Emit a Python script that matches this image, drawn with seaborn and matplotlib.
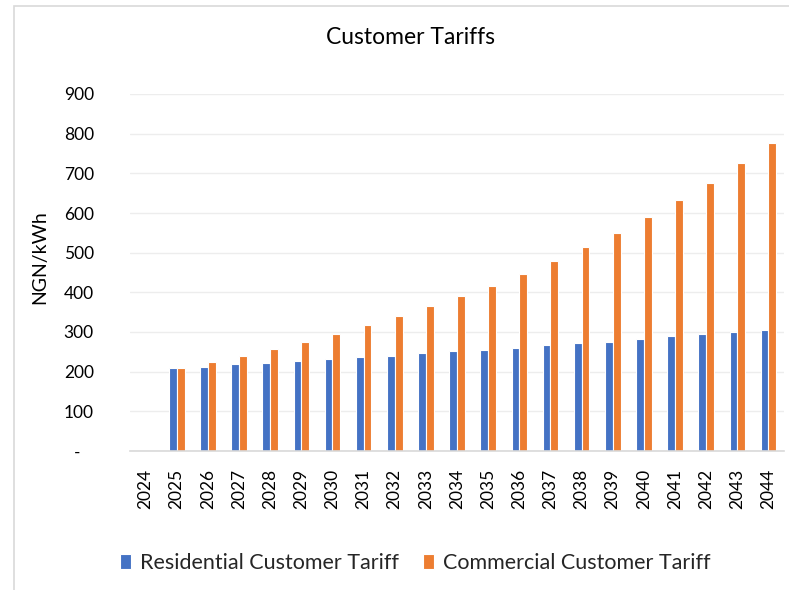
import numpy as np
import pandas as pd
import matplotlib
matplotlib.use("Agg")
import matplotlib.pyplot as plt
import seaborn as sns
from matplotlib.patches import Rectangle

years = [str(y) for y in range(2024, 2045)]
residential = [np.nan, 209, 212, 219, 222, 228, 231, 237, 240, 246, 252,
               255, 260, 266, 273, 276, 282, 289, 295, 300, 306]
commercial = [np.nan, 209, 224, 240, 258, 276, 295, 317, 341, 366, 390,
              416, 447, 480, 515, 550, 590, 633, 676, 725, 777]
series_names = ["Residential Customer Tariff", "Commercial Customer Tariff"]
ytick_vals = [0, 100, 200, 300, 400, 500, 600, 700, 800, 900]
ytick_labels = ["-   ", "100", "200", "300", "400", "500", "600", "700", "800", "900"]

df = pd.DataFrame({
    "Year": years * 2,
    "Value": residential + commercial,
    "Series": [series_names[0]] * len(years) + [series_names[1]] * len(years),
})

sns.set_theme(style="white")
plt.rcParams["font.family"] = ["Lato", "DejaVu Sans"]

fig = plt.figure(figsize=(7.89, 5.90), dpi=100)
W, H = 789, 590
ax = fig.add_axes([130 / W, 1 - 451 / H, (784 - 130) / W, (451 - 94) / H])

palette = {series_names[0]: "#4472C4", series_names[1]: "#ED7D31"}
sns.barplot(data=df, x="Year", y="Value", hue="Series", order=years,
            hue_order=series_names, palette=palette, width=0.5,
            edgecolor="white", linewidth=0.8, saturation=1, ax=ax, errorbar=None)

ax.set_ylim(0, 900)
ax.set_xlim(-0.5, len(years) - 0.5)
ax.set_yticks(ytick_vals)
ax.set_yticklabels(ytick_labels)
ax.yaxis.grid(True, color="#EDEDED", linewidth=1)
ax.set_axisbelow(True)
for s in ["top", "right", "left"]:
    ax.spines[s].set_visible(False)
ax.spines["bottom"].set_color("#D9D9D9")
ax.spines["bottom"].set_linewidth(1.2)
ax.tick_params(axis="both", length=0, labelsize=12.5, colors="black")
ax.tick_params(axis="y", pad=26)
ax.tick_params(axis="x", pad=13)
plt.setp(ax.get_xticklabels(), rotation=90)
ax.set_xlabel("")
ax.set_ylabel("")

fig.text(39.5 / W, 1 - 257 / H, "NGN/kWh", rotation=90, ha="center", va="center",
         fontsize=14, color="black")
fig.text(410 / W, 1 - 38 / H, "Customer Tariffs", ha="center", va="center",
         fontsize=16.5, color="black")

handles, labels = ax.get_legend_handles_labels()
ax.legend_.remove()
fig.legend(handles, labels, loc="center", bbox_to_anchor=(415 / W, 1 - 563 / H),
           ncol=2, frameon=False, fontsize=15.5, handlelength=0.55, handleheight=0.65,
           handletextpad=0.4, columnspacing=1.1, borderaxespad=0)

fig.patches.append(Rectangle((14 / W, -0.1), 1.2, 1 - 6 / H + 0.1, transform=fig.transFigure,
                             fill=False, edgecolor="#D9D9D9", linewidth=1.2))

fig.savefig("out.png", dpi=100)
